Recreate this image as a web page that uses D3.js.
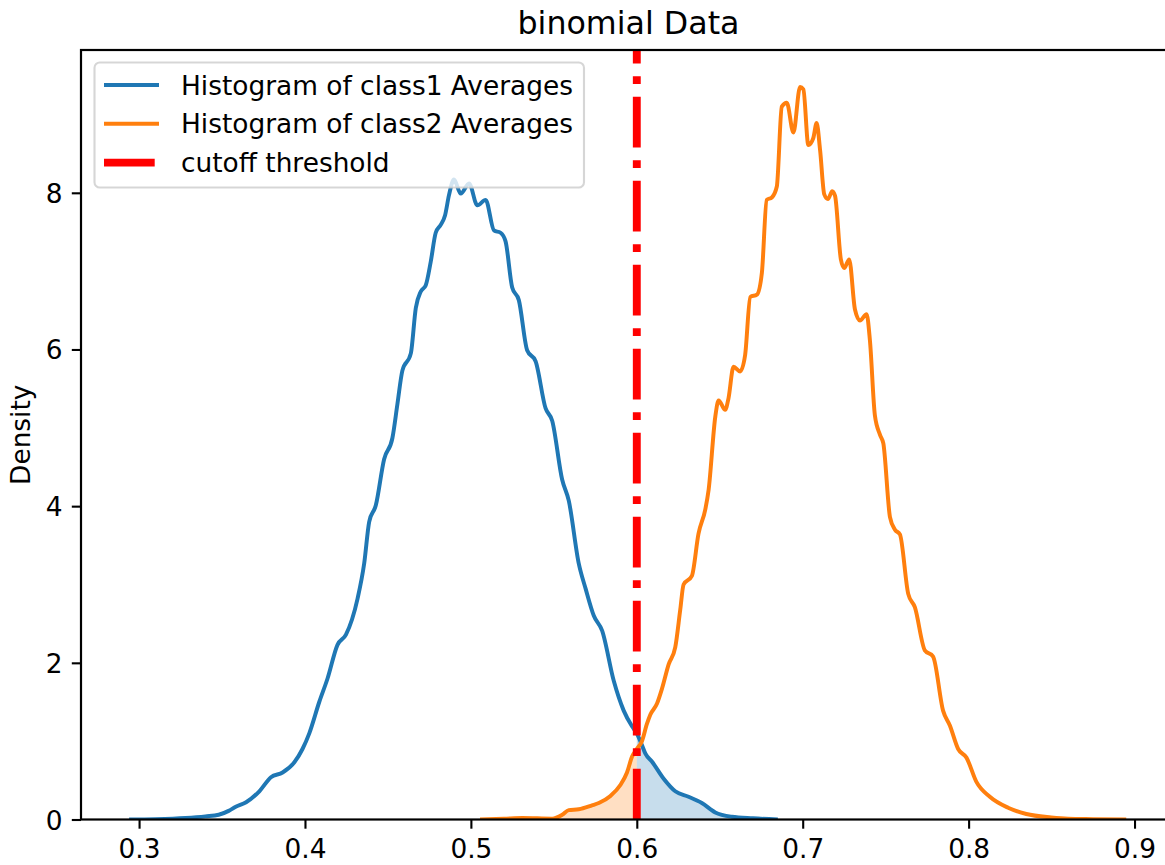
<!DOCTYPE html>
<html>
<head>
<meta charset="utf-8">
<script src="https://cdn.jsdelivr.net/npm/d3@7"></script>
<style>
  html, body { margin: 0; padding: 0; background: #fff; }
  svg { display: block; font-family: "DejaVu Sans", sans-serif; }
</style>
</head>
<body>
<svg id="chart" width="1165" height="865"></svg>
<script>
// Density estimates of the averages for each class
const class1X = [0.294, 0.31, 0.328, 0.34, 0.348, 0.354, 0.358, 0.3645, 0.3725, 0.3795, 0.3865, 0.3936, 0.3985,
  0.4026, 0.4086, 0.4136, 0.4196, 0.4247, 0.4317, 0.4357, 0.4387, 0.4427, 0.4477, 0.4527, 0.4557, 0.4587,
  0.4638, 0.4668, 0.4698, 0.4728, 0.4758, 0.4788, 0.4818, 0.4844, 0.4868, 0.4898, 0.4939, 0.4989, 0.5039,
  0.5089, 0.5139, 0.5179, 0.5209, 0.5249, 0.5289, 0.5339, 0.539, 0.545, 0.549, 0.555, 0.559, 0.565, 0.5691,
  0.5741, 0.5791, 0.5861, 0.5921, 0.5971, 0.6, 0.6031, 0.6052, 0.6091, 0.6162, 0.6232, 0.6312, 0.6392,
  0.6473, 0.6573, 0.67, 0.685];
const class1Y = [0.0, 0.005, 0.02, 0.04, 0.06, 0.11, 0.16, 0.22, 0.36, 0.54, 0.60, 0.73, 0.9,
  1.10, 1.50, 1.80, 2.23, 2.36, 2.82, 3.27, 3.80, 4.01, 4.60, 4.87, 5.30, 5.73,
  5.95, 6.53, 6.74, 6.82, 7.12, 7.49, 7.59, 7.71, 7.97, 8.17, 7.99, 8.12, 7.84,
  7.91, 7.52, 7.49, 7.38, 6.79, 6.63, 5.99, 5.85, 5.25, 5.09, 4.34, 4.07, 3.27, 2.95,
  2.60, 2.41, 1.77, 1.39, 1.19, 1.10, 0.95, 0.84, 0.74, 0.52, 0.36, 0.29, 0.21,
  0.09, 0.035, 0.015, 0.0];

const class2X = [0.5055, 0.52, 0.531, 0.549, 0.555, 0.559, 0.565, 0.573, 0.5771, 0.5841, 0.5901, 0.5941, 0.5971,
  0.6, 0.6031, 0.6061, 0.6082, 0.6122, 0.6152, 0.6192, 0.6232, 0.6262, 0.6282, 0.6332, 0.6372, 0.6413,
  0.6433, 0.6473, 0.6493, 0.6533, 0.6553, 0.6583, 0.6623, 0.6653, 0.6684, 0.6724, 0.6754, 0.6783, 0.6814,
  0.6844, 0.6874, 0.6904, 0.6944, 0.6984, 0.7004, 0.7034, 0.7064, 0.7084, 0.7105, 0.713, 0.7152, 0.7178,
  0.7195, 0.723, 0.725, 0.728, 0.7315, 0.7345, 0.7385, 0.7405, 0.7435, 0.7466, 0.7486, 0.7526, 0.7556,
  0.7586, 0.7636, 0.7676, 0.7736, 0.7786, 0.7846, 0.7887, 0.7937, 0.7987, 0.8047, 0.8128, 0.8238, 0.8348,
  0.8498, 0.8599, 0.875, 0.895];
const class2Y = [0.0, 0.01, 0.02, 0.01, 0.06, 0.12, 0.13, 0.18, 0.21, 0.30, 0.44, 0.60, 0.80,
  0.90, 1.0, 1.22, 1.34, 1.48, 1.67, 1.98, 2.20, 2.68, 3.00, 3.11, 3.65, 3.96,
  4.21, 5.14, 5.35, 5.23, 5.38, 5.78, 5.72, 5.93, 6.67, 6.70, 6.98, 7.91, 7.94,
  8.08, 9.10, 9.15, 8.77, 9.35, 9.32, 8.61, 8.70, 8.89, 8.54, 7.98, 7.92, 8.02,
  7.96, 7.15, 7.04, 7.15, 6.51, 6.37, 6.45, 6.12, 5.16, 4.91, 4.80, 3.86, 3.70,
  3.64, 2.88, 2.71, 2.16, 2.08, 1.39, 1.20, 0.90, 0.79, 0.48, 0.29, 0.15, 0.07,
  0.026, 0.01, 0.005, 0.0];

const cutoff = 0.6;
const xTicks = [0.3, 0.4, 0.5, 0.6, 0.7, 0.8, 0.9];
const yTicks = [0, 2, 4, 6, 8];
const legendLabels = ["Histogram of class1 Averages", "Histogram of class2 Averages", "cutoff threshold"];
const titleText = "binomial Data";
const yLabelText = "Density";

const blue = "#1f77b4", orange = "#ff7f0e", red = "#ff0000";
const fs = 26.4;          // tick / legend font size in px
const dash = "50.7,12.7,7.9,12.7";

const svg = d3.select("#chart");
const plotLeft = 81, plotRight = 1176, plotTop = 50, plotBottom = 819.5;

const x = d3.scaleLinear().domain([0.265, 0.925]).range([plotLeft, plotRight]);
const y = d3.scaleLinear().domain([0, 9.823]).range([plotBottom, plotTop]);

const class1 = class1X.map((v, i) => ({ x: v, y: class1Y[i] }));
const class2 = class2X.map((v, i) => ({ x: v, y: class2Y[i] }));

svg.append("defs").append("clipPath").attr("id", "plotArea")
  .append("rect").attr("x", plotLeft).attr("y", plotTop)
  .attr("width", plotRight - plotLeft).attr("height", plotBottom - plotTop);

const plot = svg.append("g").attr("clip-path", "url(#plotArea)");

const area = d3.area().x(d => x(d.x)).y0(y(0)).y1(d => y(d.y)).curve(d3.curveMonotoneX);
const line = d3.line().x(d => x(d.x)).y(d => y(d.y)).curve(d3.curveMonotoneX);

// shaded tails on the wrong side of the threshold
plot.append("path").datum(class1.filter(d => d.x >= cutoff))
  .attr("d", area).attr("fill", blue).attr("fill-opacity", 0.25);
plot.append("path").datum(class2.filter(d => d.x <= cutoff))
  .attr("d", area).attr("fill", orange).attr("fill-opacity", 0.25);

plot.append("path").datum(class1).attr("d", line)
  .attr("fill", "none").attr("stroke", blue).attr("stroke-width", 3.96).attr("stroke-linejoin", "round");
plot.append("path").datum(class2).attr("d", line)
  .attr("fill", "none").attr("stroke", orange).attr("stroke-width", 3.96).attr("stroke-linejoin", "round");

// vertical cutoff line, dash pattern running upward from the x axis
plot.append("path")
  .attr("d", d3.line()([[x(cutoff), y.range()[0]], [x(cutoff), y.range()[1]]]))
  .attr("stroke", red).attr("stroke-width", 7.9).attr("stroke-dasharray", dash).attr("fill", "none");

// axes
const xAxis = svg.append("g").attr("transform", `translate(0,${plotBottom})`)
  .call(d3.axisBottom(x).tickValues(xTicks).tickFormat(d3.format(".1f")).tickSize(9.2).tickPadding(11).tickSizeOuter(0));
const yAxis = svg.append("g").attr("transform", `translate(${plotLeft},0)`)
  .call(d3.axisLeft(y).tickValues(yTicks).tickFormat(d3.format("d")).tickSize(9.2).tickPadding(9.2).tickSizeOuter(0));

[xAxis, yAxis].forEach(g => {
  g.select(".domain").remove();
  g.selectAll(".tick line").attr("stroke", "#000").attr("stroke-width", 2.1);
  g.selectAll(".tick text").attr("fill", "#000").attr("font-size", fs)
    .attr("font-family", "DejaVu Sans, sans-serif");
});
yAxis.selectAll(".tick text").attr("dy", "0.36em");

// spines
svg.append("rect").attr("x", plotLeft).attr("y", plotTop)
  .attr("width", plotRight - plotLeft).attr("height", plotBottom - plotTop)
  .attr("stroke", "#000").attr("stroke-width", 2.2).attr("fill", "none");

// title and axis label
svg.append("text").attr("x", (plotLeft + plotRight) / 2).attr("y", 34).attr("text-anchor", "middle")
  .attr("font-size", 31.7).attr("fill", "#000").text(titleText);
svg.append("text").attr("transform", `translate(30,${(plotTop + plotBottom) / 2}) rotate(-90)`)
  .attr("text-anchor", "middle").attr("font-size", fs).attr("fill", "#000").text(yLabelText);

// legend
const legend = svg.append("g");
legend.append("rect").attr("x", 94.5).attr("y", 62.5).attr("width", 489.5).attr("height", 125)
  .attr("rx", 5.3).attr("ry", 5.3).attr("fill", "#fff").attr("fill-opacity", 0.8)
  .attr("stroke", "#cccccc").attr("stroke-opacity", 0.8).attr("stroke-width", 2.1);
const legendStyles = [
  { color: blue, width: 3.96, dash: null },
  { color: orange, width: 3.96, dash: null },
  { color: red, width: 7.9, dash: dash }
];
legendLabels.forEach((label, i) => {
  const cy = 85 + i * 38.8;
  const st = legendStyles[i];
  legend.append("line").attr("x1", 104).attr("x2", 159).attr("y1", cy).attr("y2", cy)
    .attr("stroke", st.color).attr("stroke-width", st.width)
    .attr("stroke-dasharray", st.dash);
  legend.append("text").attr("x", 181).attr("y", cy + 9.6).attr("font-size", fs)
    .attr("fill", "#000").text(label);
});
</script>
</body>
</html>
